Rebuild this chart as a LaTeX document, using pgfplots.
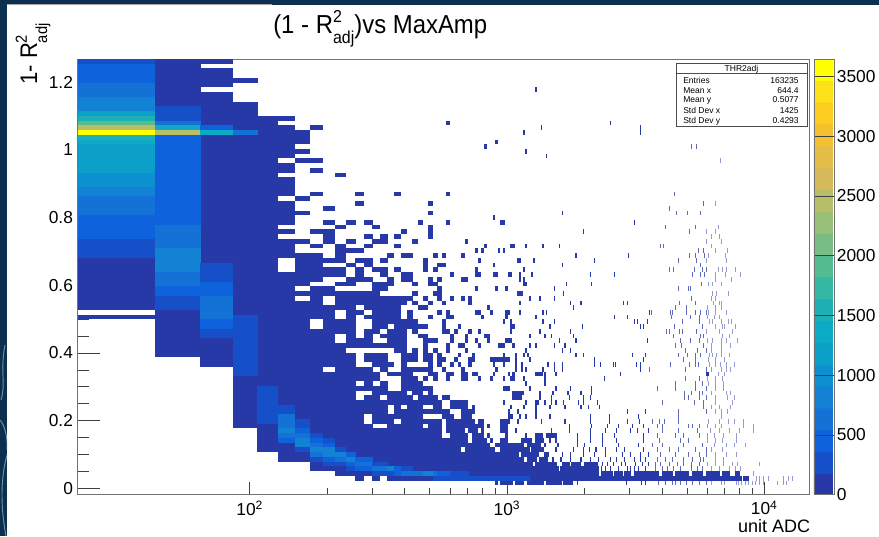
\documentclass[border=0pt]{standalone}
\usepackage{fontspec}
\usepackage{graphicx}
\usepackage{pgfplots}
\pgfplotsset{compat=1.18}
\setmainfont{Liberation Sans}
\definecolor{slide}{HTML}{0A2F4F}
\definecolor{arc}{HTML}{6E93A8}

% one histogram cell (or a run of cells): bins n..m wide, h rows high
\def\binH{1}
\pgfdeclareplotmark{cell}{%
  \pgfmathsetmacro\cellw{192.96*log10((\binM+1)/\binN)}%
  \pgfmathsetmacro\cello{\cellw<0.3?0.5:(\cellw<0.5?0.75:1)}%
  \pgfmathsetmacro\cellw{\cellw>3?\cellw+0.2:\cellw}%
  \pgfmathsetmacro\cellh{3.552*\binH}%
  \pgfsetfillopacity{\cello}%
  \pgfpathrectangle{\pgfpointorigin}{\pgfpoint{\cellw pt}{\cellh pt}}%
  \pgfusepathqfill}
\pgfplotsset{
  cells/.style={only marks,scatter,mark=cell,
    scatter/use mapped color={fill=mapped color,draw=none}},
  runs/.style={cells,
    visualization depends on={value \thisrow{n}\as\binN},
    visualization depends on={value \thisrow{m}\as\binM},
    visualization depends on={value \thisrow{h}\as\binH}},
  singles/.style={cells,
    visualization depends on={value \thisrow{n}\as\binN},
    visualization depends on={value \thisrow{n}\as\binM}},
}
\newcommand\Radj[1]{R\rlap{\raisebox{.42em}{\fontsize{#1}{#1}\selectfont 2}}\raisebox{-.42em}{\fontsize{#1}{#1}\selectfont adj}}

\begin{document}
\begin{tikzpicture}
\begin{scope}[x=0.75pt,y=-0.75pt]
  \path[use as bounding box] (0,0) rectangle (879,536);
  \fill[slide] (0,0) rectangle (879,536);
  \fill[white] (7,4.5) rectangle (879,536);
  \draw[gray!70,line width=.7pt] (7,4.3) -- (272,4.3);
  \begin{scope}
    \clip (0,340) rectangle (7,536);
    \draw[arc,line width=.7pt] (5,345) .. controls (0,370) and (6,385) .. (1,400);
    \draw[arc,line width=.7pt] (0,420) .. controls (5,425) and (8,440) .. (7,450);
    \draw[arc,line width=.7pt] (7,455) .. controls (0,480) and (1,510) .. (6,536);
  \end{scope}
\end{scope}

\begin{axis}[
  at={(58.2pt,-371.03pt)},anchor=south west,
  scale only axis,width=549pt,height=326.8pt,
  xmode=log,xmin=21.43,xmax=15000,ymin=-0.0189,ymax=1.2685,
  axis on top,clip=true,
  tick pos=left,tick align=inside,
  xtick={100,1000,10000},xticklabels={10\textsuperscript{2},10\textsuperscript{3},10\textsuperscript{4}},
  minor x tick num=8,
  ytick={0,0.2,0.4,0.6,0.8,1,1.2},yticklabels={0,0.2,0.4,0.6,0.8,1,1.2},
  minor ytick={0.05,0.1,0.15,0.25,0.3,0.35,0.45,0.5,0.55,0.65,0.7,0.75,0.85,0.9,0.95,1.05,1.1,1.15,1.25},
  xtick style={/pgfplots/major tick length=9.5pt,/pgfplots/minor tick length=4.7pt,draw=black!75,line width=.5pt},
  ytick style={/pgfplots/major tick length=17pt,/pgfplots/minor tick length=8.5pt,draw=black!75,line width=.5pt},
  tick label style={font=\fontsize{13}{13}\selectfont},
  xticklabel style={yshift=-1pt},
  axis line style={draw=black!55,line width=.6pt},
  point meta min=0,point meta max=3645,
  colormap={bird}{
    rgb255(0)=(39,57,167) rgb255(19)=(39,57,167)
    rgb255(20)=(22,80,200) rgb255(39)=(22,80,200)
    rgb255(40)=(14,98,220) rgb255(59)=(14,98,220)
    rgb255(60)=(20,114,214) rgb255(79)=(20,114,214)
    rgb255(80)=(20,130,212) rgb255(99)=(20,130,212)
    rgb255(100)=(12,144,208) rgb255(119)=(12,144,208)
    rgb255(120)=(12,160,200) rgb255(139)=(12,160,200)
    rgb255(140)=(12,170,196) rgb255(159)=(12,170,196)
    rgb255(160)=(28,176,180) rgb255(179)=(28,176,180)
    rgb255(180)=(52,184,164) rgb255(199)=(52,184,164)
    rgb255(200)=(84,188,144) rgb255(219)=(84,188,144)
    rgb255(220)=(120,190,132) rgb255(239)=(120,190,132)
    rgb255(240)=(152,192,120) rgb255(259)=(152,192,120)
    rgb255(260)=(184,190,104) rgb255(279)=(184,190,104)
    rgb255(280)=(212,186,88) rgb255(299)=(212,186,88)
    rgb255(300)=(228,188,72) rgb255(319)=(228,188,72)
    rgb255(320)=(244,192,48) rgb255(339)=(244,192,48)
    rgb255(340)=(252,204,32) rgb255(359)=(252,204,32)
    rgb255(360)=(252,224,24) rgb255(379)=(252,224,24)
    rgb255(380)=(255,255,0) rgb255(399)=(255,255,0)
  },
  colorbar,
  colorbar style={
    at={(1.0059,0)},anchor=south west,width=15pt,height=326.8pt,
    ytick={0,500,1000,1500,2000,2500,3000,3500},
    yticklabels={0,500,1000,1500,2000,2500,3000,3500},
    ytick pos=right,yticklabel pos=right,tick align=inside,
    major tick length=15pt,
    ytick style={draw=black!75,line width=.5pt},
    yticklabel style={font=\fontsize{13}{13}\selectfont,inner sep=2pt},
    axis line style={draw=black!55,line width=.5pt},
  },
]
% dark cells: runs of bins and rows
\addplot[runs,point meta={90}] table[row sep=\\,
  x expr=\thisrow{n}*21.43,y expr=-0.0189+\thisrow{j}*0.013993]{
n m j h\\
1 1 39 11\\1 1 37 1\\2 2 82 10\\2 2 29 10\\3 3 91 1\\3 3 86 4\\3 3 78 7\\3 3 49 27\\3 3 27 6\\
4 4 87 1\\4 4 77 6\\4 4 38 38\\4 4 14 11\\5 5 23 57\\5 5 9 6\\
6 6 71 7\\6 6 68 2\\6 6 63 4\\6 6 57 5\\6 6 50 4\\6 6 7 40\\
7 7 74 3\\7 7 44 7\\7 7 7 34\\8 8 45 6\\8 8 37 7\\8 8 5 30\\
9 9 53 3\\9 9 46 2\\9 9 42 2\\9 9 27 13\\9 9 5 21\\
10 10 49 4\\10 10 46 2\\10 10 39 4\\10 10 34 3\\10 10 4 28\\
11 11 44 2\\11 11 31 12\\11 11 4 26\\
12 12 45 3\\12 12 40 3\\12 12 31 2\\12 12 24 3\\12 12 3 17\\
13 13 48 2\\13 13 39 4\\13 13 31 4\\13 13 28 2\\13 13 22 5\\13 13 17 4\\13 13 4 11\\
14 14 34 11\\14 14 27 3\\14 14 24 2\\14 14 15 8\\14 14 3 11\\
15 15 53 2\\15 15 46 2\\15 15 43 2\\15 15 35 7\\15 15 26 4\\15 15 21 3\\15 15 15 5\\15 15 4 10\\
16 16 44 2\\16 16 36 6\\16 16 31 4\\16 16 19 3\\16 16 3 14\\
17 17 36 6\\17 17 30 6\\17 17 16 6\\17 17 3 12\\
18 18 45 2\\18 18 40 2\\18 18 19 18\\18 18 3 15\\
19 19 45 2\\19 19 35 4\\19 19 28 2\\19 19 22 5\\19 19 3 18\\
20 20 34 3\\20 20 28 3\\20 20 21 4\\20 20 3 17\\21 21 3 21\\
22 22 47 3\\22 22 28 6\\22 22 19 2\\22 22 3 11\\
23 23 54 3\\23 23 44 2\\23 23 25 5\\23 23 19 4\\23 23 3 13\\
24 24 24 2\\24 24 17 4\\24 24 3 13\\25 25 41 3\\25 25 27 3\\25 25 17 3\\25 25 3 13\\
26 26 34 3\\26 26 16 2\\26 26 3 9\\27 27 37 2\\27 27 30 2\\27 27 24 2\\27 27 13 5\\27 27 3 9\\
28 28 32 2\\28 28 18 2\\28 28 3 14\\29 29 18 2\\29 29 3 13\\30 30 18 2\\30 30 3 13\\
31 31 24 3\\31 31 10 10\\31 31 3 6\\32 32 32 2\\32 32 24 2\\32 32 14 6\\32 32 3 10\\
33 33 40 2\\33 33 27 2\\33 33 13 5\\33 33 3 8\\34 34 28 2\\34 34 17 2\\34 34 3 13\\
35 35 3 12\\36 36 14 2\\36 36 3 10\\37 37 13 3\\37 37 3 10\\38 38 3 9\\39 39 3 8\\40 40 3 7\\
41 41 27 2\\41 41 3 7\\42 42 3 6\\43 43 3 6\\
44 382 3 1\\386 405 3 1\\
44 105 4 1\\108 119 4 1\\122 130 4 1\\133 140 4 1\\145 156 4 1\\158 180 4 1\\186 204 4 1\\210 236 4 1\\245 267 4 1\\276 311 4 1\\319 340 4 1\\360 375 4 1\\
44 56 5 1\\57 65 5 1\\66 73 5 1\\75 105 5 1\\
44 58 6 1\\60 67 6 1\\68 72 6 1\\76 81 6 1\\83 89 6 1\\93 104 6 1\\
44 48 7 1\\49 53 7 1\\56 60 7 1\\62 66 7 1\\44 51 8 1\\53 61 8 1\\65 67 8 1\\
44 52 9 1\\53 56 9 1\\58 64 9 1\\44 46 10 1\\47 53 10 1\\56 62 10 1\\
44 46 11 1\\53 57 11 1\\60 64 11 1\\60 63 12 1\\66 72 12 1\\44 46 13 2\\44 47 15 1\\47 48 16 1\\
49 52 20 1\\49 53 21 1\\45 47 22 1\\60 63 25 1\\276 283 25 1\\
44 45 2 1\\46 48 2 1\\50 53 2 1\\56 59 2 1\\60 64 2 1\\66 75 2 1\\77 83 2 1\\
};
% dark cells: one bin, one row
\addplot[singles,point meta={90}] table[row sep=\\,
  x expr=\thisrow{n}*21.43,y expr=-0.0189+\thisrow{j}*0.013993]{
n j\\
6 79\\6 55\\7 72\\7 70\\7 62\\7 59\\7 53\\7 42\\8 77\\8 70\\8 68\\8 63\\8 55\\8 52\\9 57\\9 60\\9 49\\
10 67\\10 56\\10 44\\11 57\\11 53\\11 51\\11 48\\12 63\\12 61\\12 51\\12 49\\12 38\\12 22\\
13 57\\13 54\\13 52\\13 45\\13 37\\14 56\\14 53\\14 47\\14 31\\15 49\\15 33\\15 31\\16 50\\16 27\\16 25\\
17 63\\17 54\\17 52\\17 47\\17 25\\18 55\\18 50\\19 50\\19 41\\20 53\\20 44\\20 42\\20 40\\20 26\\
21 57\\21 39\\21 35\\21 33\\21 26\\22 41\\22 39\\22 35\\22 26\\22 24\\22 22\\22 17\\22 15\\
23 59\\23 61\\23 40\\23 37\\23 32\\23 17\\24 50\\24 47\\24 44\\24 42\\24 32\\24 30\\25 48\\25 45\\25 38\\
26 50\\26 48\\26 40\\26 28\\26 26\\26 20\\27 78\\27 63\\27 57\\27 34\\27 20\\28 46\\28 41\\28 37\\28 27\\28 25\\
29 34\\29 28\\30 35\\30 31\\30 29\\30 27\\31 50\\31 45\\31 41\\31 31\\32 53\\32 45\\32 30\\33 34\\34 25\\
35 51\\35 47\\35 46\\35 43\\35 38\\35 32\\35 25\\36 49\\36 46\\36 38\\36 34\\36 31\\36 24\\37 51\\37 37\\
38 73\\38 52\\38 33\\39 39\\39 33\\39 32\\39 12\\39 14\\40 24\\40 38\\40 28\\40 11\\41 58\\41 48\\41 46\\41 25\\
42 74\\42 46\\42 43\\42 26\\42 28\\42 10\\42 2\\43 51\\43 31\\43 28\\43 10\\44 57\\44 31\\44 28\\44 9\\45 51\\45 36\\45 29\\45 10\\
46 43\\46 38\\46 37\\46 32\\47 46\\47 32\\47 8\\48 52\\48 34\\48 24\\48 9\\49 35\\49 25\\49 10\\51 49\\52 46\\52 45\\
60 85\\63 77\\54 76\\117 78\\153 76\\153 77\\55 72\\66 71\\242 73\\253 73\\313 70\\208 63\\270 61\\300 61\\198 60\\
212 59\\234 59\\262 59\\76 59\\45 57\\145 57\\192 56\\250 56\\307 56\\92 55\\238 55\\278 55\\300 55\\290 54\\312 54\\
278 53\\316 53\\49 52\\55 52\\64 52\\74 52\\183 52\\189 52\\290 52\\45 51\\258 51\\270 51\\300 51\\335 51\\
86 50\\138 50\\238 50\\250 50\\273 50\\282 50\\327 50\\52 49\\59 49\\102 49\\216 49\\253 49\\278 49\\332 49\\76 48\\263 48\\
54 47\\198 47\\207 47\\248 47\\268 47\\276 47\\307 47\\319 47\\332 47\\358 47\\48 46\\58 46\\98 46\\122 46\\244 46\\262 46\\271 46\\299 46\\327 46\\377 46\\
54 45\\299 45\\347 45\\54 44\\55 44\\79 44\\99 44\\266 44\\283 44\\293 44\\316 44\\46 43\\71 43\\216 43\\236 43\\241 43\\
51 42\\52 42\\53 42\\77 42\\293 42\\303 42\\336 42\\57 41\\62 41\\71 41\\242 41\\290 41\\299 41\\
52 40\\82 40\\90 40\\132 40\\137 40\\218 40\\250 40\\295 40\\311 40\\316 40\\84 39\\210 39\\232 39\\279 39\\301 39\\316 39\\
47 38\\52 38\\64 38\\66 38\\166 38\\169 38\\201 38\\204 38\\232 38\\250 38\\263 38\\276 38\\283 38\\301 38\\330 38\\
60 37\\122 37\\137 37\\202 37\\240 37\\260 37\\279 37\\297 37\\311 37\\48 36\\64 36\\71 36\\145 36\\150 36\\163 36\\223 36\\260 36\\285 36\\293 36\\316 36\\337 36\\347 36\\
48 35\\49 35\\68 35\\91 35\\154 35\\157 35\\208 35\\267 35\\301 35\\319 35\\324 35\\358 35\\48 34\\62 34\\82 34\\193 34\\199 34\\218 34\\224 34\\253 34\\278 34\\311 34\\351 34\\
57 33\\65 33\\69 33\\84 33\\206 33\\262 33\\270 33\\319 33\\340 33\\46 32\\48 32\\74 32\\86 32\\163 32\\219 32\\241 32\\261 32\\280 32\\293 32\\316 32\\332 32\\366 32\\
45 31\\49 31\\57 31\\60 31\\71 31\\78 31\\209 31\\222 31\\270 31\\290 31\\316 31\\344 31\\55 30\\76 30\\82 30\\230 30\\256 30\\276 30\\290 30\\316 30\\
45 29\\50 29\\54 29\\56 29\\86 29\\92 29\\143 29\\161 29\\215 29\\233 29\\250 29\\262 29\\285 29\\293 29\\303 29\\316 29\\340 29\\
44 28\\45 28\\46 28\\47 28\\50 28\\57 28\\102 28\\158 28\\226 28\\250 28\\283 28\\299 28\\324 28\\
45 27\\50 27\\53 27\\67 27\\71 27\\76 27\\102 27\\107 27\\120 27\\123 27\\148 27\\154 27\\200 27\\238 27\\250 27\\257 27\\285 27\\299 27\\313 27\\332 27\\357 27\\
50 26\\53 26\\55 26\\64 26\\71 26\\76 26\\153 26\\167 26\\230 26\\276 26\\290 26\\316 26\\330 26\\344 26\\
47 25\\49 25\\65 25\\72 25\\128 25\\307 25\\324 25\\45 24\\48 24\\49 24\\54 24\\65 24\\111 24\\230 24\\261 24\\280 24\\301 24\\319 24\\
55 23\\65 23\\210 23\\250 23\\267 23\\283 23\\300 23\\322 23\\57 22\\72 22\\82 22\\99 22\\179 22\\210 22\\250 22\\276 22\\300 22\\323 22\\
62 21\\70 21\\80 21\\90 21\\99 21\\228 21\\243 21\\260 21\\267 21\\290 21\\332 21\\344 21\\62 20\\69 20\\81 20\\92 20\\98 20\\228 20\\235 20\\260 20\\276 20\\301 20\\335 20\\355 20\\
45 19\\55 19\\60 19\\61 19\\65 19\\69 19\\72 19\\77 19\\88 19\\92 19\\104 19\\186 19\\248 19\\270 19\\300 19\\350 19\\
48 18\\54 18\\60 18\\68 18\\78 18\\90 18\\96 18\\106 18\\270 18\\290 18\\311 18\\344 18\\47 17\\51 17\\60 17\\137 17\\161 17\\215 17\\276 17\\301 17\\316 17\\335 17\\
52 16\\55 16\\60 16\\68 16\\98 16\\116 16\\151 16\\215 16\\316 16\\51 15\\63 15\\78 15\\98 15\\116 15\\136 15\\152 15\\171 15\\182 15\\190 15\\216 15\\283 15\\311 15\\337 15\\355 15\\387 15\\
81 14\\99 14\\114 14\\126 14\\143 14\\158 14\\179 14\\186 14\\235 14\\245 14\\260 14\\280 14\\301 14\\316 14\\386 14\\422 14\\
50 13\\69 13\\81 13\\98 13\\112 13\\124 13\\140 13\\149 13\\165 13\\186 13\\216 13\\256 13\\288 13\\311 13\\340 13\\372 13\\422 13\\
46 12\\55 12\\87 12\\98 12\\109 12\\122 12\\158 12\\179 12\\210 12\\226 12\\260 12\\280 12\\297 12\\323 12\\361 12\\
68 11\\72 11\\87 11\\98 11\\109 11\\124 11\\158 11\\182 11\\219 11\\236 11\\280 11\\300 11\\319 11\\361 11\\
65 10\\73 10\\87 10\\93 10\\109 10\\126 10\\151 10\\171 10\\186 10\\226 10\\267 10\\297 10\\330 10\\355 10\\393 10\\
72 9\\84 9\\92 9\\97 9\\103 9\\112 9\\124 9\\133 9\\158 9\\179 9\\198 9\\216 9\\250 9\\276 9\\290 9\\319 9\\
76 8\\82 8\\92 8\\102 8\\112 8\\130 8\\140 8\\153 8\\165 8\\184 8\\210 8\\236 8\\260 8\\276 8\\300 8\\330 8\\361 8\\
70 7\\75 7\\82 7\\90 7\\98 7\\105 7\\117 7\\124 7\\133 7\\145 7\\153 7\\161 7\\179 7\\192 7\\204 7\\226 7\\245 7\\263 7\\270 7\\301 7\\323 7\\
109 6\\114 6\\121 6\\129 6\\134 6\\147 6\\156 6\\165 6\\176 6\\184 6\\198 6\\213 6\\226 6\\243 6\\260 6\\280 6\\301 6\\323 6\\350 6\\366 6\\444 6\\
108 5\\112 5\\117 5\\126 5\\136 5\\140 5\\145 5\\151 5\\161 5\\175 5\\186 5\\196 5\\207 5\\219 5\\243 5\\256 5\\267 5\\290 5\\311 5\\340 5\\360 5\\375 5\\422 4\\
433 3\\444 3\\460 3\\483 3\\550 3\\575 3\\600 3\\
87 2\\135 2\\155 2\\161 2\\180 2\\192 2\\204 2\\210 2\\219 2\\232 2\\245 2\\260 2\\276 2\\290 2\\317 2\\325 2\\361 2\\370 2\\380 2\\392 2\\405 2\\418 2\\430 2\\444 2\\460 2\\525 2\\550 2\\565 2\\
};
% coloured cells
\addplot[runs,point meta=\thisrow{v}] table[row sep=\\,
  x expr=\thisrow{n}*21.43,y expr=-0.0189+\thisrow{j}*0.013993]{
n m j h v\\
1 1 91 1 270\\1 1 87 4 450\\1 1 84 3 640\\1 1 81 3 820\\1 1 80 1 1180\\1 1 79 1 1540\\1 1 78 1 1900\\1 1 77 1 2440\\1 1 76 1 3540\\1 1 75 1 1540\\1 1 74 1 1360\\1 1 68 6 1180\\1 1 65 3 1000\\1 1 63 2 820\\1 1 59 4 640\\1 1 54 5 450\\1 1 50 4 270\\
2 2 79 3 270\\2 2 78 1 640\\2 2 77 1 1360\\2 2 76 1 2440\\2 2 57 19 450\\2 2 52 5 640\\2 2 47 5 820\\2 2 44 3 640\\2 2 42 2 450\\2 2 39 3 270\\
3 3 77 1 450\\3 3 76 1 1360\\3 3 45 4 270\\3 3 42 3 450\\3 3 37 5 640\\3 3 35 2 450\\3 3 33 2 270\\
4 4 76 1 640\\4 4 25 13 270\\5 5 15 8 270\\
6 6 11 1 450\\6 6 12 1 640\\6 6 13 1 820\\6 6 14 3 640\\6 6 17 2 270\\
7 7 9 1 270\\7 7 10 2 820\\7 7 12 1 640\\7 7 13 1 450\\7 7 14 2 270\\
8 8 7 1 270\\8 8 8 1 640\\8 8 9 1 820\\8 8 10 1 640\\8 8 11 1 450\\8 8 12 1 270\\
9 9 6 1 270\\9 9 7 1 450\\9 9 8 2 820\\9 9 10 1 450\\9 9 11 1 270\\
10 10 6 1 270\\10 10 7 1 640\\10 10 8 1 820\\10 10 9 1 270\\
11 11 5 1 270\\11 11 6 1 450\\11 11 7 1 820\\11 11 8 1 450\\
12 13 5 1 450\\12 13 6 1 640\\12 13 7 1 450\\
14 15 4 1 270\\14 15 5 1 640\\14 15 6 1 270\\
16 16 4 1 270\\16 16 5 1 820\\17 17 4 1 450\\17 17 5 1 450\\18 19 4 1 640\\18 19 5 1 270\\
20 21 4 1 640\\22 23 4 1 820\\24 24 4 1 640\\25 27 4 1 450\\28 32 4 1 270\\24 56 3 1 270\\
};
\end{axis}

\begin{scope}[x=0.75pt,y=-0.75pt]
  \node[anchor=base west,inner sep=0,font=\fontsize{19.5}{19.5}\selectfont] at (273,33)
    {\scalebox{.92}[1]{(1 - \Radj{13})vs MaxAmp}};
  \node[anchor=base west,inner sep=0,rotate=90,font=\fontsize{18}{18}\selectfont] at (37,85)
    {\scalebox{.92}[1]{1- \Radj{12}}};
  \node[anchor=base east,inner sep=0,font=\fontsize{13.5}{13.5}\selectfont] at (810.5,532.5) {unit ADC};
  % statistics box
  \draw[black!70,line width=.6pt,fill=white] (676.7,63.3) rectangle (807,126.3);
  \draw[black!70,line width=.5pt] (676.7,73.3) -- (807,73.3);
  \begin{scope}[every node/.style={inner sep=0,font=\fontsize{6.4}{6.4}\selectfont}]
    \node[anchor=base] at (741.5,71.3) {THR2adj};
    \node[anchor=base west] at (683,83) {Entries};   \node[anchor=base east] at (799,83) {163235};
    \node[anchor=base west] at (683,93) {Mean x};    \node[anchor=base east] at (799,93) {644.4};
    \node[anchor=base west] at (683,102.5) {Mean y}; \node[anchor=base east] at (799,102.5) {0.5077};
    \node[anchor=base west] at (683,113.5) {Std Dev x}; \node[anchor=base east] at (799,113.5) {1425};
    \node[anchor=base west] at (683,123) {Std Dev y};   \node[anchor=base east] at (799,123) {0.4293};
  \end{scope}
\end{scope}
\end{tikzpicture}
\end{document}
